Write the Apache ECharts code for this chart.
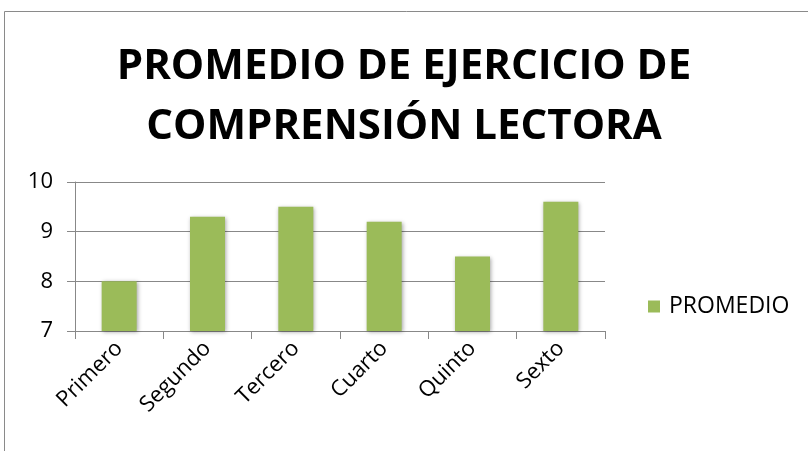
<!DOCTYPE html>
<html><head><meta charset="utf-8">
<script src="https://cdn.jsdelivr.net/npm/echarts@6/dist/echarts.min.js"></script>
<style>html,body{margin:0;padding:0;background:#fff}#c{width:808px;height:451px}</style>
</head><body><div id="c"></div>
<script>
const categories = ['Primero','Segundo','Tercero','Cuarto','Quinto','Sexto'];
const promedio = [8.0, 9.3, 9.5, 9.2, 8.5, 9.6];
const seriesName = 'PROMEDIO';
const titleText = 'PROMEDIO DE EJERCICIO DE\nCOMPRENSIÓN LECTORA';
const font = '"Open Sans", sans-serif';
const chart = echarts.init(document.getElementById('c'));
chart.setOption({
  animation: false,
  graphic: [{type:'rect', shape:{x:4.5,y:11.5,width:820,height:460}, style:{fill:'none', stroke:'#8a8a8a', lineWidth:1}}],
  title: {text: titleText, left: 'center', top: 32, textStyle:{fontFamily:font, fontWeight:'bold', fontSize:42, lineHeight:60, color:'#000'}},
  legend: {data:[seriesName], left: 643, top: 290, orient:'vertical', itemWidth:12, itemHeight:12, icon:'rect', itemGap:8,
    textStyle:{fontFamily:font, fontSize:23, color:'#000', padding:[0,0,0,4]}},
  grid: {left: 75, right: 203, top: 182, bottom: 120, containLabel:false},
  xAxis: {type:'category', data: categories,
    axisLine:{lineStyle:{color:'#888', width:1}},
    axisTick:{show:true, alignWithLabel:false, length:8, lineStyle:{color:'#888'}},
    axisLabel:{rotate:45, fontFamily:font, fontSize:22, color:'#000', margin:14}},
  yAxis: {type:'value', min:7, max:10, interval:1,
    axisLine:{show:true, lineStyle:{color:'#888'}},
    axisTick:{show:true, length:8, lineStyle:{color:'#888'}},
    splitLine:{lineStyle:{color:'#888', width:1}},
    axisLabel:{fontFamily:font, fontSize:22, color:'#000', margin:22}},
  series: [{name: seriesName, type:'bar', data: promedio, barWidth: 35,
    itemStyle:{color:'#9BBB59', shadowBlur:4, shadowColor:'rgba(0,0,0,0.35)', shadowOffsetX:1, shadowOffsetY:1}}]
});
</script></body></html>
